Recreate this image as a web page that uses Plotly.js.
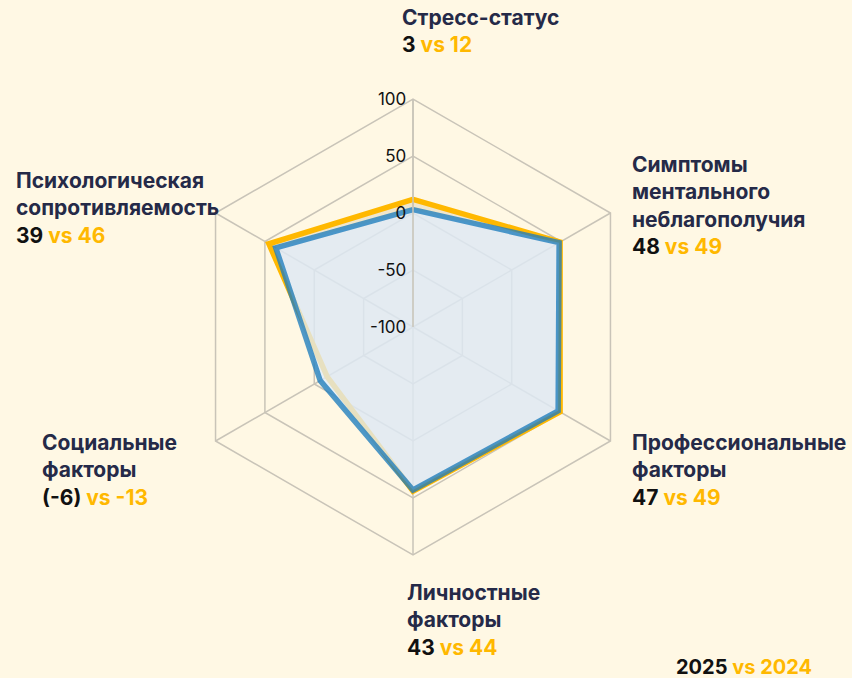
<!DOCTYPE html>
<html>
<head>
<meta charset="utf-8">
<script src="https://cdn.plot.ly/plotly-3.0.1.min.js"></script>
<style>html,body{margin:0;padding:0;background:#FFF8E4;}#chart{width:852px;height:678px;}</style>
</head>
<body>
<div id="chart"></div>
<script>
const categories = ["Стресс-статус", "Симптомы ментального неблагополучия", "Профессиональные факторы", "Личностные факторы", "Социальные факторы", "Психологическая сопротивляемость"];
const values2025 = [3, 48, 47, 43, -6, 39];
const values2024 = [12, 49, 49, 44, -13, 46];
const labels2025 = ["3", "48", "47", "43", "(-6)", "39"];
const labels2024 = ["12", "49", "49", "44", "-13", "46"];
const labelLines = [["Стресс-статус"], ["Симптомы", "ментального", "неблагополучия"], ["Профессиональные", "факторы"], ["Личностные", "факторы"], ["Социальные", "факторы"], ["Психологическая", "сопротивляемость"]];
const radialTicks = [-100, -50, 0, 50, 100];
const radialTickText = ["-100", "-50", "0", "50", "100"];

const NAVY = "#252a48", BLACK = "#111111", YELLOW = "#FFB800";
const close = a => a.concat([a[0]]);
const theta = close(categories);

const traces = [
  {type: "scatterpolar", r: close(values2024), theta: theta, mode: "lines", fill: "toself",
   fillcolor: "rgba(205,190,150,0.3)", line: {color: YELLOW, width: 5.5}, hoverinfo: "skip", name: "2024"},
  {type: "scatterpolar", r: close(values2025), theta: theta, mode: "lines", fill: "toself",
   fillcolor: "rgba(224,236,252,0.76)", line: {color: "rgba(29,124,188,0.78)", width: 5.5}, hoverinfo: "skip", name: "2025"}
];

// label anchor positions (paper px from top-left)
const pos = [[400, 3], [630, 150], [630, 428], [405, 578], [40, 428], [14, 166]];
const annotations = categories.map((c, i) => {
  const txt = labelLines[i].map(s => "<b>" + s + "</b>").join("<br>") +
    "<br><b><span style='color:" + BLACK + "'>" + labels2025[i] + "</span> <span style='color:" + YELLOW + "'>vs " + labels2024[i] + "</span></b>";
  return {xref: "paper", yref: "paper", x: pos[i][0] / 852, y: 1 - pos[i][1] / 678,
    xanchor: "left", yanchor: "top", align: "left", showarrow: false, text: txt,
    font: {family: "Inter, sans-serif", size: 21, weight: 800, color: NAVY}};
});
annotations.push({xref: "paper", yref: "paper", x: 814 / 852, y: 1 - 667 / 678, xanchor: "right", yanchor: "middle",
  showarrow: false, text: "<b><span style='color:" + BLACK + "'>2025</span> <span style='color:" + YELLOW + "'>vs 2024</span></b>",
  font: {family: "Inter, sans-serif", size: 20, weight: 800, color: BLACK}});

const layout = {
  width: 852, height: 678,
  margin: {l: 0, r: 0, t: 0, b: 0},
  paper_bgcolor: "#FFF8E4",
  showlegend: false,
  polar: {
    domain: {x: [185 / 852, 641 / 852], y: [(351 - 228) / 678, (351 + 228) / 678]},
    bgcolor: "#FFF8E4",
    gridshape: "linear",
    radialaxis: {range: [-100, 100], tickvals: radialTicks, ticktext: radialTickText, angle: 90, tickangle: 90, side: "counterclockwise",
      showline: true, linecolor: "#c9c4b8", linewidth: 1.5, gridcolor: "#c9c4b8", gridwidth: 1.5,
      ticks: "", tickfont: {family: "Inter, sans-serif", size: 17, color: BLACK}},
    angularaxis: {direction: "clockwise", rotation: 90, showticklabels: false, ticks: "",
      linecolor: "#c9c4b8", linewidth: 1.5, gridcolor: "#c9c4b8", gridwidth: 1.5}
  },
  annotations: annotations
};
Plotly.newPlot("chart", traces, layout, {displayModeBar: false, staticPlot: true});
</script>
</body>
</html>
